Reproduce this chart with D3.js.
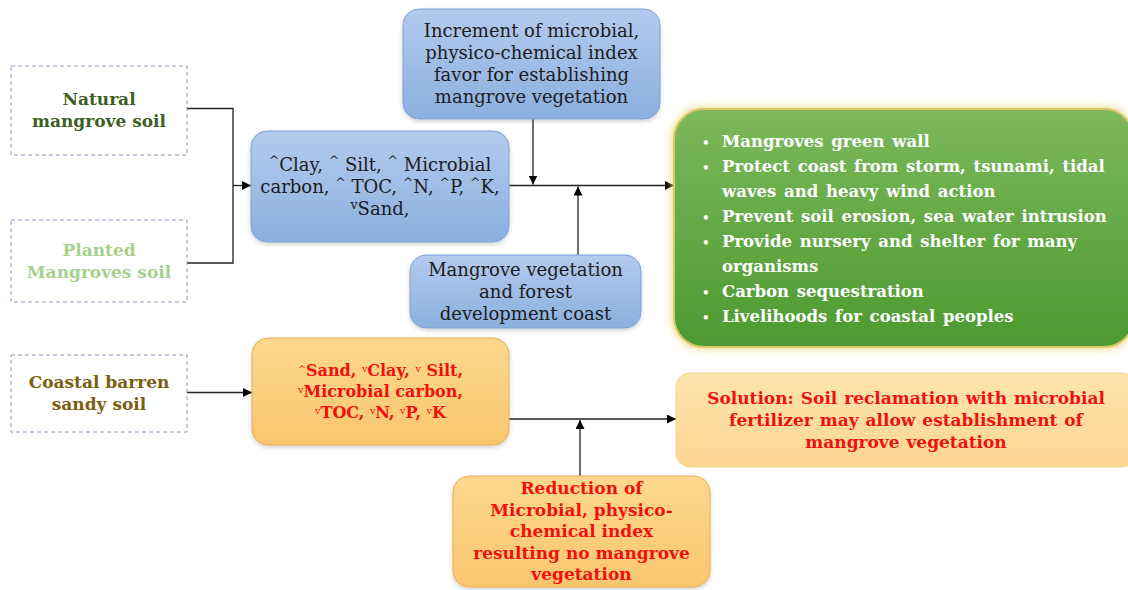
<!DOCTYPE html>
<html>
<head>
<meta charset="utf-8">
<script src="https://cdn.jsdelivr.net/npm/d3@7"></script>
<style>
  body { margin: 0; background: #fff; }
  svg { display: block; }
</style>
</head>
<body>
<svg class="flow" width="1128" height="590"></svg>
<script>
// box texts (˄ = raised up-caret, ˅ = raised down-caret)
let naturalSoil = ['Natural', 'mangrove soil'];
let plantedSoil = ['Planted', 'Mangroves soil'];
let barrenSoil = ['Coastal barren', 'sandy soil'];
let increaseText = ['˄Clay, ˄ Silt, ˄ Microbial', 'carbon, ˄ TOC, ˄N, ˄P, ˄K,', '˅Sand,'];
let incrementText = ['Increment of microbial,', 'physico-chemical index', 'favor for establishing', 'mangrove vegetation'];
let developText = ['Mangrove vegetation', 'and forest', 'development coast'];
let benefitItems = [
	['Mangroves green wall'],
	['Protect coast from storm, tsunami, tidal', 'waves and heavy wind action'],
	['Prevent soil erosion, sea water intrusion'],
	['Provide nursery and  shelter for many', 'organisms'],
	['Carbon sequestration'],
	['Livelihoods for coastal peoples']
];
let decreaseText = ['˄Sand, ˅Clay, ˅ Silt,', '˅Microbial carbon,', '˅TOC, ˅N, ˅P, ˅K'];
let solutionText = ['Solution: Soil reclamation with microbial', 'fertilizer may allow establishment of', 'mangrove vegetation'];
let reductionText = ['Reduction of', 'Microbial, physico-', 'chemical index', 'resulting no mangrove', 'vegetation'];

// layout of boxes [x, y, w, h]
let layout = {
	natural: [11, 66, 176, 89],
	planted: [11, 220, 176, 82],
	barren: [11, 355, 176, 77],
	increase: [251, 131, 258, 111],
	increment: [403, 9, 257, 110],
	develop: [410, 255, 231, 73],
	benefits: [674, 109, 460, 238],
	decrease: [252, 338, 257, 107],
	solution: [676, 373, 460, 94],
	reduction: [453, 476, 257, 111]
};

let svg = d3.select('.flow');
let defs = svg.append('defs');

function linGrad(id, top, bottom) {
	let gr = defs.append('linearGradient').attr('id', id)
		.attr('x1', 0).attr('y1', 0).attr('x2', 0).attr('y2', 1);
	gr.append('stop').attr('offset', '0%').attr('stop-color', top);
	gr.append('stop').attr('offset', '100%').attr('stop-color', bottom);
}
linGrad('blue', '#b3cbec', '#8bafdf');
linGrad('green', '#7db85c', '#4c9a30');
linGrad('orange', '#fdd88e', '#f9c66e');
linGrad('pale', '#fde3ad', '#fcd792');

defs.append('marker').attr('id', 'arrow')
	.attr('viewBox', '0 0 10 10').attr('refX', 10).attr('refY', 5)
	.attr('markerWidth', 9).attr('markerHeight', 9)
	.attr('markerUnits', 'userSpaceOnUse')
	.attr('orient', 'auto')
	.append('path').attr('d', 'M0,0 L10,5 L0,10 Z').attr('fill', '#000');

let glow = defs.append('filter').attr('id', 'glow')
	.attr('x', '-10%').attr('y', '-10%').attr('width', '120%').attr('height', '120%');
glow.append('feGaussianBlur').attr('in', 'SourceAlpha').attr('stdDeviation', 5).attr('result', 'b');
glow.append('feFlood').attr('flood-color', '#e7d36a').attr('result', 'c');
glow.append('feComposite').attr('in', 'c').attr('in2', 'b').attr('operator', 'in').attr('result', 'g');
let merge = glow.append('feMerge');
merge.append('feMergeNode').attr('in', 'g');
merge.append('feMergeNode').attr('in', 'SourceGraphic');

let shadow = defs.append('filter').attr('id', 'shadow')
	.attr('x', '-10%').attr('y', '-10%').attr('width', '120%').attr('height', '130%');
shadow.append('feDropShadow').attr('dx', 0).attr('dy', 2).attr('stdDeviation', 2)
	.attr('flood-color', '#000').attr('flood-opacity', 0.18);

let serif = "'DejaVu Serif', serif";

// ---- connectors ----
let lines = svg.append('g').attr('stroke', '#222').attr('stroke-width', 1.3).attr('fill', 'none');
function link(pts, arrow) {
	let p = lines.append('path').attr('d', d3.line()(pts));
	if (arrow) p.attr('marker-end', 'url(#arrow)');
}
let L = layout;
let joinX = 233;
let natY = L.natural[1] + L.natural[3] / 2 - 2;
let plaY = L.planted[1] + L.planted[3] / 2 + 2;
let incY = L.increase[1] + L.increase[3] / 2 - 1;
link([[L.natural[0] + L.natural[2], natY], [joinX, natY], [joinX, plaY], [L.planted[0] + L.planted[2], plaY]]);
link([[joinX, incY], [L.increase[0], incY]], true);
link([[L.increase[0] + L.increase[2], incY], [L.benefits[0], incY]], true);
link([[533, L.increment[1] + L.increment[3]], [533, incY - 1]], true);
link([[578, L.develop[1]], [578, incY + 1]], true);
let barY = L.barren[1] + L.barren[3] / 2 - 1;
link([[L.barren[0] + L.barren[2], barY], [L.decrease[0], barY]], true);
let decY = 419;
link([[L.decrease[0] + L.decrease[2], decY], [L.solution[0], decY]], true);
link([[580, L.reduction[1]], [580, decY + 1]], true);

// ---- boxes ----
function box(key, fill, stroke, opts) {
	let b = layout[key];
	let r = svg.append('rect')
		.attr('x', b[0]).attr('y', b[1]).attr('width', b[2]).attr('height', b[3])
		.attr('rx', opts.rx).attr('fill', fill).attr('stroke', stroke)
		.attr('stroke-width', opts.sw || 1);
	if (opts.dash) r.attr('stroke-dasharray', opts.dash);
	if (opts.filter) r.attr('filter', opts.filter);
	return b;
}

function addText(b, rows, o) {
	let cx = b[0] + b[2] / 2, cy = b[1] + b[3] / 2 + (o.shift || 0);
	let t = svg.append('text').attr('text-anchor', 'middle')
		.attr('font-family', o.font).attr('font-size', o.size)
		.attr('font-weight', o.weight).attr('fill', o.color);
	if (o.ws) t.attr('word-spacing', o.ws);
	let y0 = cy - (rows.length - 1) / 2 * o.lh + o.size * 0.35;
	rows.forEach(function(row, i) {
		let line = t.append('tspan').attr('x', cx).attr('y', y0 + i * o.lh);
		// split into runs so the carets can be drawn small and raised
		row.split(/([˄˅])/).forEach(function(part) {
			if (!part) return;
			if (part === '˄' || part === '˅') {
				line.append('tspan').attr('font-size', o.size * (o.caret || 0.6))
					.attr('baseline-shift', '45%').attr('font-weight', 'normal')
					.text(part === '˄' ? '^' : 'v');
			} else {
				line.append('tspan').text(part);
			}
		});
	});
}

// left column (dashed)
[['natural', naturalSoil, '#3d5f25'], ['planted', plantedSoil, '#a8d08d'], ['barren', barrenSoil, '#7b5e10']].forEach(function(d) {
	let b = box(d[0], '#fff', '#8497c0', { rx: 0, dash: '4,3' });
	addText(b, d[1], { font: serif, size: 17, weight: 'bold', color: d[2], lh: 22, shift: 0 });
});

// blue boxes
[['increase', increaseText], ['increment', incrementText], ['develop', developText]].forEach(function(d) {
	let b = box(d[0], 'url(#blue)', '#7fa2d4', { rx: 16, filter: 'url(#shadow)' });
	addText(b, d[1], { font: serif, size: 18, weight: 'normal', color: '#1c1c1c', lh: 22, caret: 0.7 });
});

// orange boxes
let dec = box('decrease', 'url(#orange)', '#e9ab55', { rx: 16, filter: 'url(#shadow)' });
addText(dec, decreaseText, { font: serif, size: 16, weight: 'bold', color: '#ee1111', lh: 21 });
let red = box('reduction', 'url(#orange)', '#e9ab55', { rx: 16, filter: 'url(#shadow)' });
addText(red, reductionText, { font: serif, size: 17, weight: 'bold', color: '#ee1111', lh: 21.5 });
let sol = box('solution', 'url(#pale)', '#f6d090', { rx: 14 });
addText(sol, solutionText, { font: serif, size: 17, weight: 'bold', color: '#ee1111', lh: 22, ws: 1 });

// green benefits box
let gb = box('benefits', 'url(#green)', '#d9c865', { rx: 30, sw: 2, filter: 'url(#glow)' });
let bt = svg.append('text').attr('font-family', serif).attr('font-size', 16.5)
	.attr('font-weight', 'bold').attr('fill', '#fff').attr('word-spacing', 2);
let row = 0;
benefitItems.forEach(function(item) {
	item.forEach(function(txt, j) {
		let y = 147 + row * 25;
		if (j === 0) {
			bt.append('tspan').attr('x', 702).attr('y', y).attr('font-size', 12).text('•');
		}
		bt.append('tspan').attr('x', 722).attr('y', y).text(txt);
		row++;
	});
});
</script>
</body>
</html>
